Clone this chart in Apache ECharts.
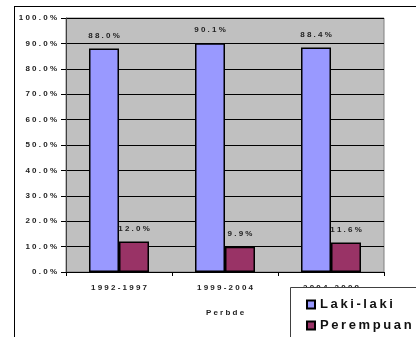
<!DOCTYPE html>
<html><head><meta charset="utf-8">
<script src="https://cdn.jsdelivr.net/npm/echarts@6/dist/echarts.min.js"></script>
<style>html,body{margin:0;padding:0;background:#fff}#c{width:416px;height:337px}</style>
</head><body><div id="c"></div>
<script>
const categories = ['1992-1997', '1999-2004', '2004-2009'];
const lakiLaki = [88.0, 90.1, 88.4];
const perempuan = [12.0, 9.9, 11.6];
const seriesNames = ['Laki-laki', 'Perempuan'];
const axisName = 'Perbde';

const sp = s => String(s).split('').join(' ');
const FONT = '"Liberation Sans", Arial, sans-serif';
const chart = echarts.init(document.getElementById('c'), null, {renderer: 'canvas'});
const labelCfg = {
  show: true, position: 'top', distance: 9,
  fontFamily: FONT, fontWeight: 'bold', fontSize: 8, color: '#222',
  formatter: p => sp(p.value.toFixed(1) + '%')
};
chart.setOption({
  animation: false,
  grid: {left: 66, right: 32, top: 18, bottom: 65, show: true,
    backgroundColor: '#C0C0C0', borderColor: '#808080', borderWidth: 1},
  xAxis: {
    type: 'category', data: categories,
    name: sp(axisName), nameLocation: 'middle', nameGap: 37,
    nameTextStyle: {fontFamily: FONT, fontWeight: 'bold', fontSize: 8, color: '#222'},
    axisLine: {lineStyle: {color: '#000', width: 1}},
    axisTick: {show: true, length: 4, lineStyle: {color: '#000'}},
    axisLabel: {margin: 12, fontFamily: FONT, fontWeight: 'bold', fontSize: 8, color: '#222', formatter: v => sp(v)}
  },
  yAxis: {
    type: 'value', min: 0, max: 100, interval: 10,
    axisLine: {show: true, lineStyle: {color: '#404040'}},
    axisTick: {show: true, length: 5, lineStyle: {color: '#000'}},
    splitLine: {lineStyle: {color: '#000', width: 1}},
    axisLabel: {margin: 9, fontFamily: FONT, fontWeight: 'bold', fontSize: 8, color: '#222',
      formatter: v => sp(v.toFixed(1) + '%')}
  },
  legend: {
    orient: 'vertical', left: 301, top: 293, itemGap: 8,
    icon: 'rect', itemWidth: 8, itemHeight: 8, z: 20,
    textStyle: {fontFamily: FONT, fontWeight: 'bold', fontSize: 13, color: '#111'},
    formatter: n => n.split('').join('\u2009'),
    data: seriesNames
  },
  graphic: [
    {type: 'line', shape: {x1: 14, y1: 6.5, x2: 416, y2: 6.5}, style: {stroke: '#000', lineWidth: 1}},
    {type: 'line', shape: {x1: 14.5, y1: 6, x2: 14.5, y2: 337}, style: {stroke: '#000', lineWidth: 1}},
    {type: 'rect', z: 15, shape: {x: 290.5, y: 287.5, width: 200, height: 100},
      style: {fill: '#fff', stroke: '#404040', lineWidth: 1}}
  ],
  series: [
    {name: seriesNames[0], type: 'bar', data: lakiLaki, barWidth: 30, barGap: '0%',
      itemStyle: {color: '#9999FF', borderColor: '#000', borderWidth: 1.5}, label: labelCfg},
    {name: seriesNames[1], type: 'bar', data: perempuan, barWidth: 30, barGap: '0%',
      itemStyle: {color: '#993366', borderColor: '#000', borderWidth: 1.5}, label: labelCfg}
  ]
});
</script></body></html>
